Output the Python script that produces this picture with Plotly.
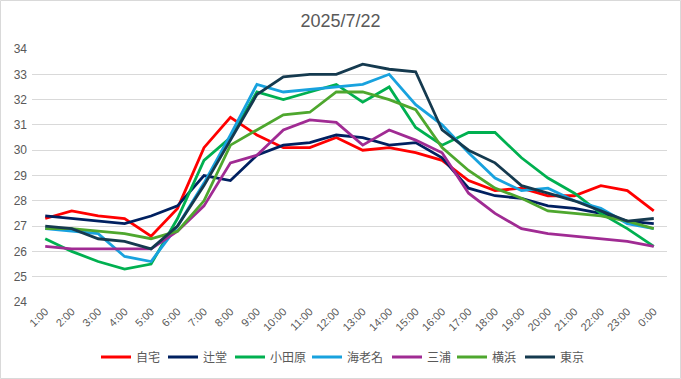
import plotly.graph_objects as go

hours = ["1:00", "2:00", "3:00", "4:00", "5:00", "6:00", "7:00", "8:00", "9:00", "10:00",
         "11:00", "12:00", "13:00", "14:00", "15:00", "16:00", "17:00", "18:00", "19:00",
         "20:00", "21:00", "22:00", "23:00", "0:00"]

jitaku = [27.3, 27.6, 27.4, 27.3, 26.6, 27.7, 30.1, 31.3, 30.6, 30.1, 30.1, 30.5,
          30.0, 30.1, 29.9, 29.6, 28.8, 28.4, 28.5, 28.2, 28.2, 28.6, 28.4, 27.6]
tsujido = [27.4, 27.3, 27.2, 27.1, 27.4, 27.8, 29.0, 28.8, 29.8, 30.2, 30.3, 30.6,
           30.5, 30.2, 30.3, 29.7, 28.5, 28.2, 28.1, 27.8, 27.7, 27.5, 27.2, 27.1]
odawara = [26.5, 26.0, 25.6, 25.3, 25.5, 27.3, 29.6, 30.5, 32.3, 32.0, 32.3, 32.6,
           31.9, 32.5, 30.9, 30.2, 30.7, 30.7, 29.7, 28.9, 28.3, 27.5, 26.9, 26.2]
ebina = [26.9, 26.8, 26.7, 25.8, 25.6, 27.0, 28.7, 30.6, 32.6, 32.3, 32.4, 32.5,
         32.6, 33.0, 31.8, 31.0, 29.9, 28.9, 28.4, 28.5, 28.0, 27.7, 27.1, 26.9]
miura = [26.2, 26.1, 26.1, 26.1, 26.1, 26.8, 27.8, 29.5, 29.8, 30.8, 31.2, 31.1,
         30.2, 30.8, 30.4, 29.9, 28.3, 27.5, 26.9, 26.7, 26.6, 26.5, 26.4, 26.2]
yokohama = [26.9, 26.9, 26.8, 26.7, 26.5, 26.8, 28.0, 30.2, 30.8, 31.4, 31.5, 32.3,
            32.3, 32.0, 31.6, 30.1, 29.2, 28.5, 28.1, 27.6, 27.5, 27.4, 27.2, 26.9]
tokyo = [27.0, 26.9, 26.5, 26.4, 26.1, 27.0, 28.6, 30.4, 32.2, 32.9, 33.0, 33.0,
         33.4, 33.2, 33.1, 30.8, 30.0, 29.5, 28.6, 28.3, 28.0, 27.6, 27.2, 27.3]

series_names = ["自宅", "辻堂", "小田原", "海老名", "三浦", "横浜", "東京"]
series_values = [jitaku, tsujido, odawara, ebina, miura, yokohama, tokyo]
series_colors = ["#FF0000", "#002060", "#00B050", "#18A2DE", "#A02B93", "#4EA72E", "#153A4F"]
legend_starts = [101, 168, 235, 312, 392, 457, 525]  # pixel x of each legend entry

font_fam = "Liberation Sans, Arial, Noto Sans CJK JP, sans-serif"
W, H = 681, 379
ml, mr, mt, mb = 32, 14, 49, 77
pw, ph = W - ml - mr, H - mt - mb

fig = go.Figure()
legend_layouts = {}
for i, (name, vals, col) in enumerate(zip(series_names, series_values, series_colors)):
    lg = "legend" if i == 0 else f"legend{i + 1}"
    fig.add_trace(go.Scatter(x=hours, y=vals, name=name, mode="lines", legend=lg,
                             line=dict(color=col, width=2.8)))
    legend_layouts[lg] = dict(
        orientation="h", x=(legend_starts[i] - 5 - ml) / pw, xanchor="left",
        y=-(357 - (mt + ph)) / ph, yanchor="middle",
        font=dict(family="Noto Sans CJK JP, " + font_fam, size=12, color="#595959"),
        itemwidth=30, bgcolor="rgba(0,0,0,0)", borderwidth=0)

fig.update_layout(
    width=W, height=H,
    margin=dict(l=ml, r=mr, t=mt, b=mb, autoexpand=False),
    paper_bgcolor="white", plot_bgcolor="white",
    title=dict(text="2025/7/22", x=0.5, xanchor="center", y=1 - 21 / H, yanchor="middle",
               font=dict(family=font_fam, size=18, color="#595959")),
    font=dict(family=font_fam, color="#595959", size=11),
    xaxis=dict(type="category", range=[-0.5, 23.5], showgrid=False, showline=False,
               ticks="", tickangle=-45, tickfont=dict(size=11, color="#595959"),
               automargin=False),
    yaxis=dict(range=[24, 34], dtick=1, showgrid=True, gridcolor="#D9D9D9", gridwidth=1,
               zeroline=False, showline=False, ticks="", ticklabelstandoff=4,
               tickfont=dict(size=12, color="#595959"), automargin=False),
    showlegend=True,
    **legend_layouts,
)

# outer chart border
fig.add_shape(type="rect", xref="paper", yref="paper",
              x0=-(ml - 0.5) / pw, x1=1 + (mr - 0.5) / pw,
              y0=-(mb - 0.5) / ph, y1=1 + (mt - 0.5) / ph,
              line=dict(color="#D9D9D9", width=1), fillcolor="rgba(0,0,0,0)", layer="below")

fig.write_html("out.html", config={"displayModeBar": False},
               post_script="document.body.style.margin='0';")
